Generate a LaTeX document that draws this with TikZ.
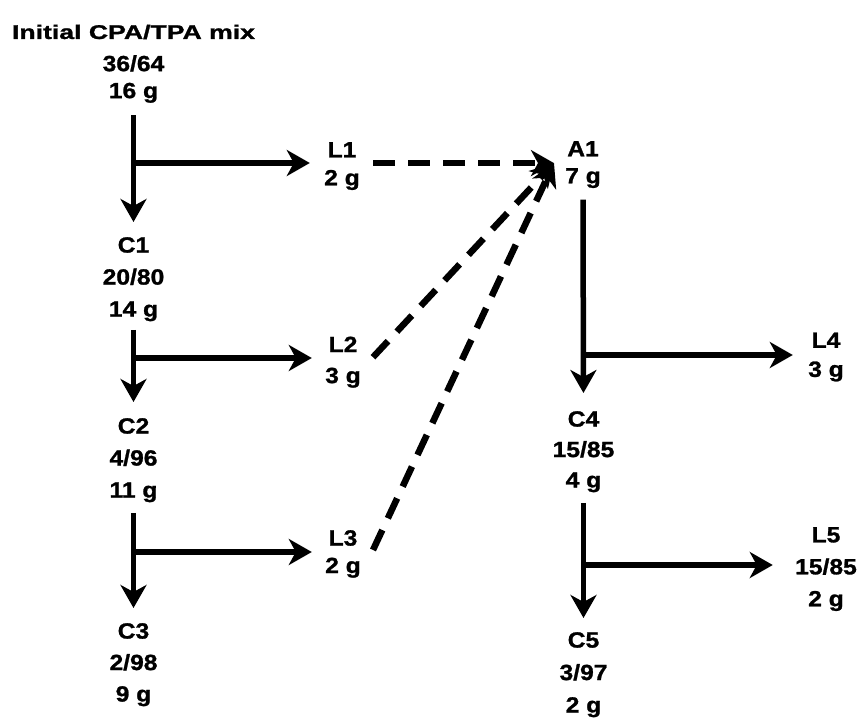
\documentclass[tikz,border=0pt]{standalone}
\usepackage{fontspec}
\newfontfamily\lab{Liberation Sans Bold}[FakeStretch=1.12,FakeBold=1.2]
\usetikzlibrary{arrows.meta}
\begin{document}
\begin{tikzpicture}[x=1pt,y=-1pt,
  txt/.style={inner sep=0pt, anchor=north, align=center, font=\lab\fontsize{22}{#1}\selectfont},
  txt/.default=32,
  arr/.style={line width=5.5pt, -{Stealth[length=23pt,width=26pt,inset=7pt]}},
  darr/.style={line width=6.5pt, dash pattern=on 22pt off 13pt, -{Stealth[length=23pt,width=26pt,inset=7pt]}}]
\useasboundingbox (0,0) rectangle (863,720);
% text nodes
\node[txt, anchor=center] (title) at (133.5,32) {\scalebox{1.08}[0.9]{Initial CPA/TPA mix}};
\node[txt=27] (G0) at (133.5,55) {36/64\\16 g};
\node[txt=32] (C1) at (133.5,237) {C1\\20/80\\14 g};
\node[txt=32] (C2) at (133.5,418) {C2\\4/96\\11 g};
\node[txt=31.5] (C3) at (133.5,623) {C3\\2/98\\9 g};
\node[txt=28] (L1) at (342,142) {L1\\2 g};
\node[txt=31] (L2) at (343,336.5) {L2\\3 g};
\node[txt=27.5] (L3) at (343,530) {L3\\2 g};
\node[txt=27] (A1) at (583,141) {A1\\7 g};
\node[txt=30.5] (C4) at (583.5,411) {C4\\15/85\\4 g};
\node[txt=32.5] (C5) at (583.5,632) {C5\\3/97\\2 g};
\node[txt=29] (L4) at (826,332.5) {L4\\3 g};
\node[txt=32] (L5) at (826,527) {L5\\15/85\\2 g};
% main vertical arrows
\draw[arr, shorten <=12.4pt, shorten >=15pt] (G0.south) -- (C1.north);
\draw[arr, shorten <=8.4pt, shorten >=16pt] (C1.south) -- (C2.north);
\draw[arr, shorten <=10.4pt, shorten >=15pt] (C2.south) -- (C3.north);
\draw[arr, shorten <=11.4pt, shorten >=18pt] (A1.south) -- (C4.north);
\draw[arr, shorten <=10.4pt, shorten >=14pt] (C4.south) -- (C5.north);
% branch points
\coordinate (b1) at (133.5,163);
\coordinate (b2) at (133.5,358);
\coordinate (b3) at (133.5,552);
\coordinate (b4) at (583.5,355);
\coordinate (b5) at (583.5,565);
\draw[arr, shorten >=14.2pt] (b1) -- (b1 -| L1.west);
\draw[arr, shorten >=13.2pt] (b2) -- (b2 -| L2.west);
\draw[arr, shorten >=13.2pt] (b3) -- (b3 -| L3.west);
\draw[arr, shorten >=15.2pt] (b4) -- (b4 -| L4.west);
\draw[arr, shorten >=22.2pt] (b5) -- (b5 -| L5.west);
% dashed arrows into A1
\coordinate (A1in) at ([xshift=-11pt,yshift=1.5pt]A1.west);
\draw[darr] ([xshift=13pt,yshift=3pt]L1.east) -- (A1in);
\draw[darr] ([xshift=12pt,yshift=5pt]L2.east) -- (A1in);
\draw[darr] ([xshift=12pt,yshift=4pt]L3.east) -- (A1in);
\end{tikzpicture}
\end{document}
